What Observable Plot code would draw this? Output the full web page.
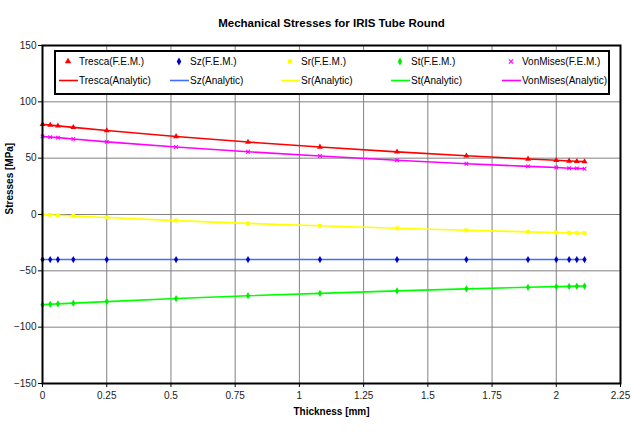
<!DOCTYPE html>
<html><head><meta charset="utf-8">
<script src="https://cdn.jsdelivr.net/npm/d3@7"></script>
<script src="https://cdn.jsdelivr.net/npm/@observablehq/plot@0.6"></script>
<style>
body{margin:0;background:#fff;}
svg{font-family:Arial,"Liberation Sans",sans-serif;}
</style>
</head><body><div id="chart"></div>
<script>
const chartTitle = "Mechanical Stresses for IRIS Tube Round";
const xLabel = "Thickness [mm]";
const yLabel = "Stresses [MPa]";
const xTicks = [0, 0.25, 0.5, 0.75, 1, 1.25, 1.5, 1.75, 2, 2.25];
const yTicks = [-150, -100, -50, 0, 50, 100, 150];

const thickness = [0, 0.03, 0.06, 0.12, 0.25, 0.52, 0.8, 1.08, 1.38, 1.65, 1.89, 2.0, 2.05, 2.08, 2.11];
const tresca   = [80, 79.3, 78.7, 77.3, 74.5, 69.2, 64.3, 59.9, 55.6, 52.1, 49.3, 48.1, 47.5, 47.2, 46.9];
const sz       = [-40, -40, -40, -40, -40, -40, -40, -40, -40, -40, -40, -40, -40, -40, -40];
const sr       = [0, -0.3, -0.7, -1.3, -2.7, -5.4, -7.9, -10.0, -12.2, -14.0, -15.4, -16.0, -16.2, -16.4, -16.5];
const st       = [-80, -79.7, -79.3, -78.7, -77.3, -74.6, -72.1, -70.0, -67.8, -66.0, -64.6, -64.0, -63.8, -63.6, -63.5];
const vonMises = [69.3, 68.7, 68.2, 67.0, 64.5, 59.9, 55.7, 51.9, 48.2, 45.1, 42.7, 41.7, 41.1, 40.9, 40.6];

const seriesNames = ["Tresca", "Sz", "Sr", "St", "VonMises"];
const seriesValues = [tresca, sz, sr, st, vonMises];
const lineColors = ["#FF0000", "#3F6FFF", "#FFFF00", "#00FF00", "#FF00FF"];
const markerColors = ["#FF0000", "#0000CC", "#FFFF00", "#00EE00", "#FF00FF"];
const markerSymbols = ["triangle", "diamond", "square", "diamond", "times"];
const markerFilled = [true, true, true, true, false];

const rows = seriesNames.map((name, s) => thickness.map((x, i) => ({series: name, x, y: seriesValues[s][i]})));

const marks = [
  Plot.gridX(xTicks, {stroke: "#808080", strokeOpacity: 1}),
  Plot.gridY(yTicks, {stroke: "#808080", strokeOpacity: 1}),
];
rows.forEach((data, s) => {
  marks.push(Plot.line(data, {x: "x", y: "y", stroke: lineColors[s], strokeWidth: 1.6}));
});
rows.forEach((data, s) => {
  marks.push(Plot.dot(data, markerFilled[s]
    ? {x: "x", y: "y", symbol: () => markerSymbols[s], fill: markerColors[s], stroke: "none", r: 2.2}
    : {x: "x", y: "y", symbol: () => markerSymbols[s], stroke: markerColors[s], fill: "none", r: 1.8, strokeWidth: 1.1}));
});
marks.push(
  Plot.frame({stroke: "black", strokeWidth: 2}),
  Plot.axisX(xTicks, {tickSize: 4, tickPadding: 4, fontSize: 10, label: null, stroke: "black", fill: "#222", tickFormat: d => String(d)}),
  Plot.axisY(yTicks, {tickSize: 4, tickPadding: 2, fontSize: 10, label: null, stroke: "black", fill: "#222"}),
  Plot.text([chartTitle], {frameAnchor: "top", dy: -27, fontSize: 11.5, fontWeight: "bold", fill: "black"}),
  Plot.text([xLabel], {frameAnchor: "bottom", dy: 31, fontSize: 10, fontWeight: "bold", fill: "black"}),
  Plot.text([yLabel], {frameAnchor: "left", dx: -33, rotate: -90, fontSize: 10, fontWeight: "bold", fill: "black"})
);

const chart = Plot.plot({
  width: 631, height: 432,
  marginLeft: 42, marginRight: 11, marginTop: 45, marginBottom: 49,
  style: {fontFamily: "Arial, 'Liberation Sans', sans-serif", background: "white"},
  x: {domain: [0, 2.25]},
  y: {domain: [-150, 150]},
  marks
});
document.getElementById("chart").appendChild(chart);

// Legend box inside the plot
const svg = d3.select(chart);
const lg = svg.append("g").attr("font-size", 10).attr("fill", "black").attr("text-anchor", "start");
lg.append("rect").attr("x", 55).attr("y", 51).attr("width", 554).attr("height", 43)
  .attr("fill", "white").attr("stroke", "black").attr("stroke-width", 2);
const colText = [79, 190, 301, 411, 522];
const d3Sym = {triangle: d3.symbolTriangle, diamond: d3.symbolDiamond, square: d3.symbolSquare, times: d3.symbolTimes};
seriesNames.forEach((name, s) => {
  const tx = colText[s];
  const sym = d3.symbol(d3Sym[markerSymbols[s]], markerFilled[s] ? 18 : 14);
  const p = lg.append("path").attr("d", sym()).attr("transform", `translate(${tx - 11},61.5)`);
  if (markerFilled[s]) p.attr("fill", markerColors[s]); else p.attr("fill", "none").attr("stroke", markerColors[s]).attr("stroke-width", 1.1);
  lg.append("text").attr("x", tx).attr("y", 61.5).attr("dy", "0.35em").attr("text-anchor", "start").text(name + "(F.E.M.)");
  lg.append("line").attr("x1", tx - 20).attr("x2", tx - 1).attr("y1", 80.5).attr("y2", 80.5)
    .attr("stroke", lineColors[s]).attr("stroke-width", 1.6);
  lg.append("text").attr("x", tx).attr("y", 80.5).attr("dy", "0.35em").attr("text-anchor", "start").text(name + "(Analytic)");
});
</script>
</body></html>
